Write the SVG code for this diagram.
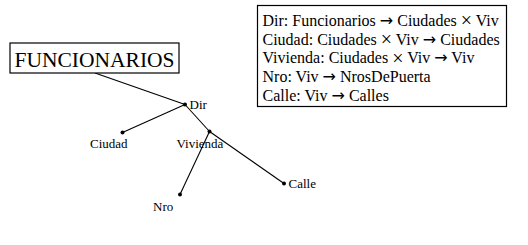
<svg xmlns="http://www.w3.org/2000/svg" width="528" height="245" viewBox="0 0 528 245">
  <style>
    .edge { stroke: #000; stroke-width: 1.1; fill: none; }
    .dot { fill: #000; }
    .lbl { font-family: "Liberation Serif", "Times New Roman", serif; font-size: 13px; fill: #000; }
    .box { fill: #fff; stroke: #000; stroke-width: 1.2; }
    .sig { font-family: "Liberation Serif", "Times New Roman", serif; font-size: 16px; fill: #000; }
    .arr { font-family: "DejaVu Sans", sans-serif; font-size: 16px; }
    .times { font-family: "Liberation Serif", serif; font-size: 20px; }
  </style>
  <rect width="528" height="245" fill="#fff"/>

  <!-- tree edges -->
  <g id="connectors">
    <line class="edge" x1="95" y1="73" x2="185" y2="104.5"/>
    <line class="edge" x1="185" y1="104.5" x2="122.5" y2="132.5"/>
    <line class="edge" x1="185" y1="104.5" x2="209.5" y2="131.5"/>
    <line class="edge" x1="209.5" y1="131.5" x2="180" y2="194.5"/>
    <line class="edge" x1="209.5" y1="131.5" x2="284" y2="183.5"/>
  </g>

  <g id="funcionarios">
    <rect class="box" x="10" y="43" width="169" height="30"/>
    <text x="94.5" y="67" text-anchor="middle" font-family="Liberation Serif, Times New Roman, serif" font-size="21.5" fill="#000">FUNCIONARIOS</text>
  </g>

  <g id="dir">
    <circle class="dot" cx="185" cy="104.5" r="2"/>
    <text class="lbl" x="189.5" y="109">Dir</text>
  </g>

  <g id="ciudad">
    <circle class="dot" cx="122.5" cy="132.5" r="2"/>
    <text class="lbl" x="90" y="148">Ciudad</text>
  </g>

  <g id="vivienda">
    <circle class="dot" cx="209.5" cy="131.5" r="2"/>
    <text class="lbl" x="176.5" y="148">Vivienda</text>
  </g>

  <g id="nro">
    <circle class="dot" cx="180" cy="194.5" r="2"/>
    <text class="lbl" x="153" y="211">Nro</text>
  </g>

  <g id="calle">
    <circle class="dot" cx="284" cy="183.5" r="2"/>
    <text class="lbl" x="288.5" y="188">Calle</text>
  </g>

  <!-- function signatures; the cross sign is set a little lower to sit on the math axis -->
  <g id="signatures">
    <rect class="box" x="257.5" y="5.5" width="249" height="101"/>
    <text class="sig" x="262.5" y="26" xml:space="preserve">Dir: Funcionarios <tspan class="arr">→</tspan> Ciudades <tspan class="times" dy="1.2">×</tspan><tspan dy="-1.2"> Viv</tspan></text>
    <text class="sig" x="262.5" y="44.7" xml:space="preserve">Ciudad: Ciudades <tspan class="times" dy="1.2">×</tspan><tspan dy="-1.2"> Viv </tspan><tspan class="arr">→</tspan> Ciudades</text>
    <text class="sig" x="262.5" y="63.4" xml:space="preserve">Vivienda: Ciudades <tspan class="times" dy="1.2">×</tspan><tspan dy="-1.2"> Viv </tspan><tspan class="arr">→</tspan> Viv</text>
    <text class="sig" x="262.5" y="82.1" xml:space="preserve">Nro: Viv <tspan class="arr">→</tspan> NrosDePuerta</text>
    <text class="sig" x="262.5" y="100.8" xml:space="preserve">Calle: Viv <tspan class="arr">→</tspan> Calles</text>
  </g>
</svg>
